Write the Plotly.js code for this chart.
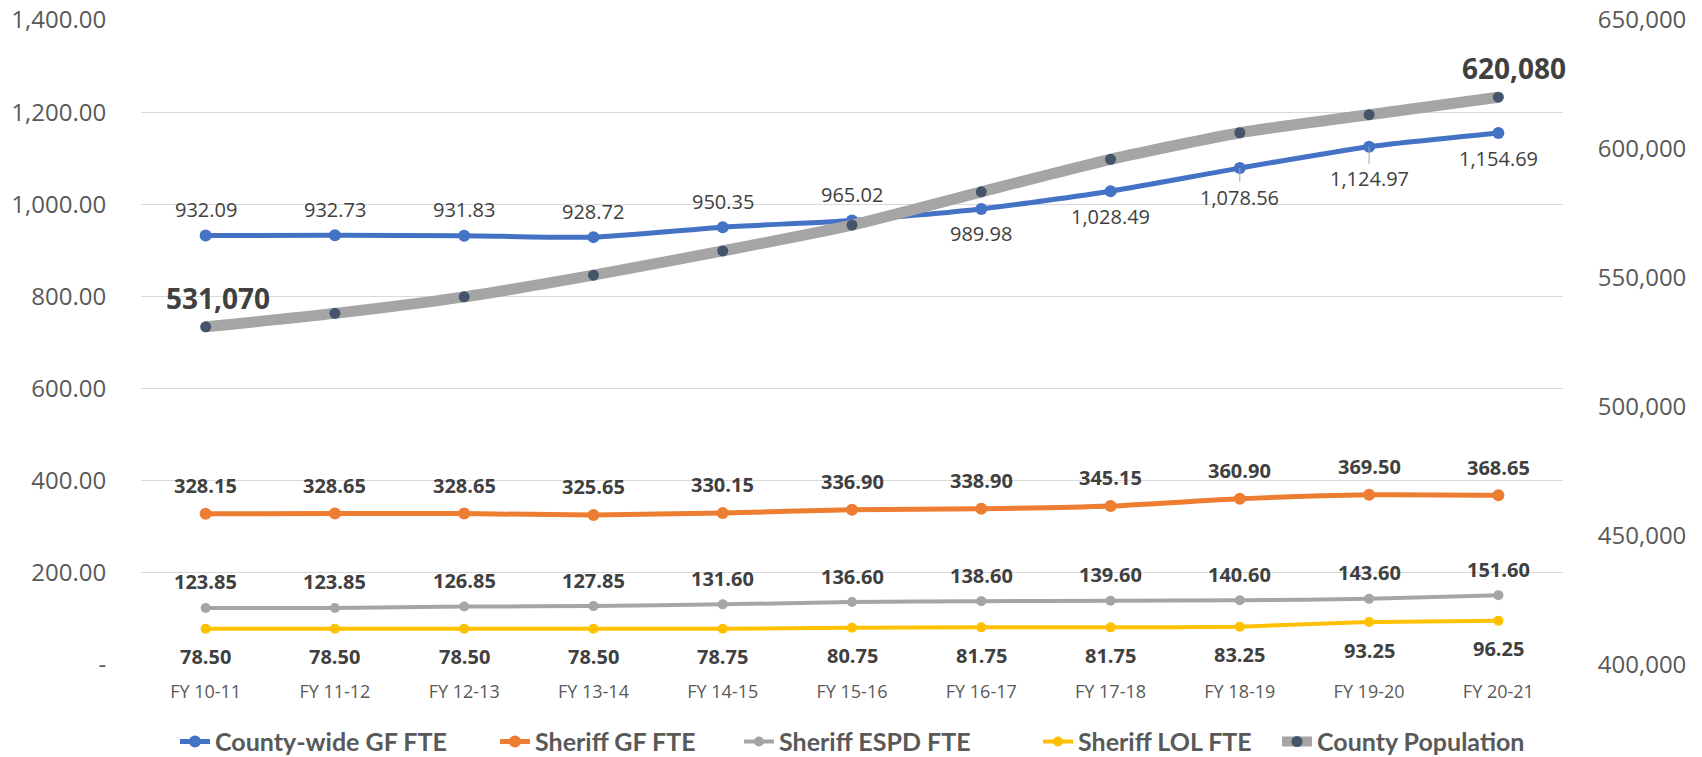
<!DOCTYPE html>
<html>
<head>
<meta charset="utf-8">
<script src="https://cdn.plot.ly/plotly-3.0.1.min.js"></script>
<style>
  html, body { margin: 0; padding: 0; background: #ffffff; }
  #chart { width: 1702px; height: 757px; }
</style>
</head>
<body>
<div id="chart"></div>
<script>
// ---- data ----
const categories = ["FY 10-11", "FY 11-12", "FY 12-13", "FY 13-14", "FY 14-15", "FY 15-16",
                    "FY 16-17", "FY 17-18", "FY 18-19", "FY 19-20", "FY 20-21"];
const countyGF   = [932.09, 932.73, 931.83, 928.72, 950.35, 965.02, 989.98, 1028.49, 1078.56, 1124.97, 1154.69];
const sheriffGF  = [328.15, 328.65, 328.65, 325.65, 330.15, 336.90, 338.90, 345.15, 360.90, 369.50, 368.65];
const sheriffESPD = [123.85, 123.85, 126.85, 127.85, 131.60, 136.60, 138.60, 139.60, 140.60, 143.60, 151.60];
const sheriffLOL = [78.50, 78.50, 78.50, 78.50, 78.75, 80.75, 81.75, 81.75, 83.25, 93.25, 96.25];
const population = [531070, 536300, 542700, 551100, 560500, 570500, 583400, 596000, 606300, 613300, 620080];
const seriesNames = ["County-wide GF FTE", "Sheriff GF FTE", "Sheriff ESPD FTE", "Sheriff LOL FTE", "County Population"];
const leftTicks = [0, 200, 400, 600, 800, 1000, 1200, 1400];
const rightTicks = [400000, 450000, 500000, 550000, 600000, 650000];

// ---- helpers ----
const fmt2 = v => v.toLocaleString("en-US", {minimumFractionDigits: 2, maximumFractionDigits: 2});
const fmt0 = v => v.toLocaleString("en-US");
const leftTickText = leftTicks.map(v => v === 0 ? "-" : fmt2(v));
const rightTickText = rightTicks.map(fmt0);

const labelFont = {family: "Open Sans", size: 20, color: "#404040"};
const boldFont = {family: "Open Sans", size: 20, color: "#404040", weight: "bold"};
const popFont = {family: "Open Sans", size: 28, color: "#404040", weight: "bold"};

// ---- data labels (annotations placed through the axes) ----
const annotations = [];
function label(x, y, text, font, yref, yshift, xshift) {
  annotations.push({x: x, y: y, xref: "x", yref: yref, text: text, font: font,
    showarrow: false, xanchor: "center", yanchor: "middle", yshift: yshift, xshift: xshift || 0});
}
countyGF.forEach((v, i) => {
  const leader = (i === 8 || i === 9);
  if (leader) {
    annotations.push({x: categories[i], y: v, xref: "x", yref: "y", text: fmt2(v), font: labelFont,
      showarrow: true, arrowhead: 0, arrowwidth: 1, arrowcolor: "#a6a6a6", standoff: 0,
      ax: 0, ay: (i === 8 ? 29 : 32), xanchor: "center", yanchor: "middle"});
  } else {
    label(categories[i], v, fmt2(v), labelFont, "y", i < 6 ? 26 : -25);
  }
});
sheriffGF.forEach((v, i) => label(categories[i], v, fmt2(v), boldFont, "y", 28));
sheriffESPD.forEach((v, i) => label(categories[i], v, fmt2(v), boldFont, "y", 26));
sheriffLOL.forEach((v, i) => label(categories[i], v, fmt2(v), boldFont, "y", -28));
const lastPop = population.length - 1;
label(categories[0], population[0], fmt0(population[0]), popFont, "y2", 29, 12);
label(categories[lastPop], population[lastPop], fmt0(population[lastPop]), popFont, "y2", 29, 16);

// ---- traces ----
const lineShape = {shape: "spline", smoothing: 0.6};
const traces = [
  {x: categories, y: countyGF, name: seriesNames[0], type: "scatter", mode: "lines+markers", legend: "legend",
   line: Object.assign({color: "#4472c4", width: 5}, lineShape), marker: {color: "#4472c4", size: 12}},
  {x: categories, y: sheriffGF, name: seriesNames[1], type: "scatter", mode: "lines+markers", legend: "legend2",
   line: Object.assign({color: "#ed7d31", width: 5}, lineShape), marker: {color: "#ed7d31", size: 12}},
  {x: categories, y: sheriffESPD, name: seriesNames[2], type: "scatter", mode: "lines+markers", legend: "legend3",
   line: Object.assign({color: "#a5a5a5", width: 4}, lineShape), marker: {color: "#a5a5a5", size: 10}},
  {x: categories, y: sheriffLOL, name: seriesNames[3], type: "scatter", mode: "lines+markers", legend: "legend4",
   line: Object.assign({color: "#ffc000", width: 4}, lineShape), marker: {color: "#ffc000", size: 10}},
  {x: categories, y: population, name: seriesNames[4], type: "scatter", mode: "lines+markers", legend: "legend5",
   yaxis: "y2",
   line: Object.assign({color: "#a5a5a5", width: 11}, lineShape), marker: {color: "#44546a", size: 11}}
];

// ---- layout ----
const plotLeft = 141, plotWidth = 1422;
const legendFont = {family: "Lato", size: 25, color: "#595959", weight: "bold"};
const legendTextStarts = [215, 535, 779, 1078, 1317];
function legendAt(px) {
  return {orientation: "h", x: (px - 40 - plotLeft) / plotWidth, xanchor: "left",
          y: -0.119, yanchor: "middle", font: legendFont, bgcolor: "rgba(0,0,0,0)"};
}

const layout = {
  width: 1702, height: 757,
  margin: {l: 141, r: 139, t: 20, b: 92, autoexpand: false},
  paper_bgcolor: "#ffffff", plot_bgcolor: "#ffffff",
  showlegend: true,
  legend: legendAt(legendTextStarts[0]),
  legend2: legendAt(legendTextStarts[1]),
  legend3: legendAt(legendTextStarts[2]),
  legend4: legendAt(legendTextStarts[3]),
  legend5: legendAt(legendTextStarts[4]),
  annotations: annotations,
  xaxis: {
    type: "category", range: [-0.5, 10.5], showgrid: false, zeroline: false, showline: false,
    tickfont: {family: "Open Sans", size: 18, color: "#595959"},
    ticks: "outside", ticklen: 10, tickcolor: "rgba(0,0,0,0)"
  },
  yaxis: {
    range: [0, 1400], tickvals: leftTicks, ticktext: leftTickText,
    showgrid: true, gridcolor: "#d9d9d9", gridwidth: 1, zeroline: false, showline: false,
    tickfont: {family: "Open Sans", size: 24, color: "#595959"},
    ticks: "outside", ticklen: 29, tickcolor: "rgba(0,0,0,0)"
  },
  yaxis2: {
    overlaying: "y", side: "right", range: [400000, 650000],
    tickvals: rightTicks, ticktext: rightTickText,
    showgrid: false, zeroline: false, showline: false,
    tickfont: {family: "Open Sans", size: 24, color: "#595959"},
    ticks: "outside", ticklen: 29, tickcolor: "rgba(0,0,0,0)"
  }
};

Plotly.newPlot("chart", traces, layout, {displayModeBar: false, staticPlot: true});
</script>
</body>
</html>
